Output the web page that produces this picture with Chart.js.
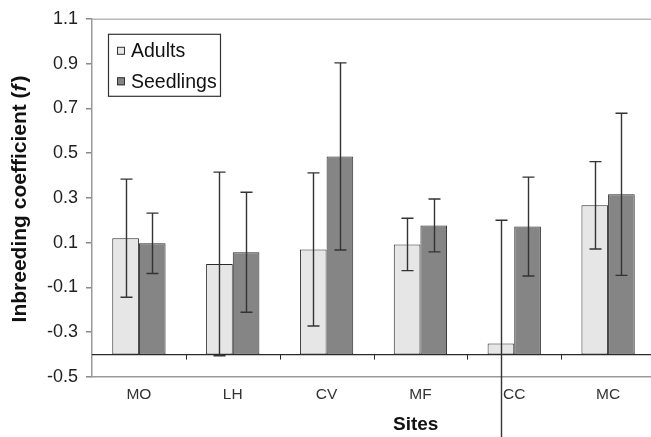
<!DOCTYPE html>
<html>
<head>
<meta charset="utf-8">
<script src="https://cdn.jsdelivr.net/npm/chart.js@4/dist/chart.umd.min.js"></script>
<style>
  html, body { margin: 0; padding: 0; background: #fff; overflow: hidden; }
  #wrap { width: 655px; height: 437px; }
</style>
</head>
<body>
<div id="wrap"><canvas id="c" width="655" height="437"></canvas></div>
<script>
const sites = ['MO', 'LH', 'CV', 'MF', 'CC', 'MC'];
const adults = [0.12, 0.005, 0.07, 0.092, -0.35, 0.267];
const adultsErr = [0.264, 0.41, 0.342, 0.117, 0.55, 0.195];
const seedlings = [0.097, 0.057, 0.485, 0.177, 0.172, 0.316];
const seedlingsErr = [0.135, 0.268, 0.418, 0.118, 0.221, 0.362];
const barBase = -0.4;
const yMin = -0.5, yMax = 1.1, yStep = 0.2;
const seriesNames = ['Adults', 'Seedlings'];
const yTitle = ['Inbreeding coefficient (', 'f', ')'];
const xTitle = 'Sites';

const FONT = '"Liberation Sans", Arial, sans-serif';
const errs = [adultsErr, seedlingsErr];

const decor = {
  id: 'decor',
  beforeDatasetsDraw(chart) {
    const { ctx, chartArea: a } = chart;
    ctx.save();
    ctx.strokeStyle = '#b8b8b8';
    ctx.lineWidth = 1.5;
    ctx.beginPath();
    ctx.moveTo(a.left, a.top + 0.5);
    ctx.lineTo(a.right, a.top + 0.5);
    ctx.stroke();
    ctx.restore();
  },
  afterDatasetsDraw(chart) {
    const { ctx, chartArea: a, scales } = chart;
    const ys = scales.y, xs = scales.x;
    ctx.save();
    const yb = ys.getPixelForValue(barBase);
    ctx.strokeStyle = '#2a2a2a';
    ctx.lineWidth = 1.3;
    ctx.beginPath();
    ctx.moveTo(a.left, yb);
    ctx.lineTo(a.right, yb);
    ctx.stroke();
    ctx.lineWidth = 1;
    for (let i = 0; i < sites.length - 1; i++) {
      const xm = (xs.getPixelForValue(i) + xs.getPixelForValue(i + 1)) / 2;
      ctx.beginPath();
      ctx.moveTo(Math.round(xm) + 0.5, yb);
      ctx.lineTo(Math.round(xm) + 0.5, yb + 5);
      ctx.stroke();
    }
    ctx.strokeStyle = '#333';
    ctx.lineWidth = 1.4;
    chart.data.datasets.forEach((ds, di) => {
      const meta = chart.getDatasetMeta(di);
      meta.data.forEach((bar, i) => {
        const v = ds.data[i], e = errs[di][i];
        const x = Math.round(bar.x) + 0.5;
        const t = ys.getPixelForValue(v + e);
        const b = ys.getPixelForValue(v - e);
        ctx.beginPath();
        ctx.moveTo(x, t); ctx.lineTo(x, b);
        ctx.moveTo(x - 6, t); ctx.lineTo(x + 6, t);
        ctx.moveTo(x - 6, b); ctx.lineTo(x + 6, b);
        ctx.stroke();
      });
    });
    ctx.restore();
  },
  afterDraw(chart) {
    const { ctx, chartArea: a } = chart;
    ctx.save();
    const lx = a.left + 16, ly = a.top + 15, lw = 112, lh = 62;
    ctx.strokeStyle = '#333';
    ctx.lineWidth = 1.2;
    ctx.strokeRect(lx + 0.5, ly + 0.5, lw, lh);
    ctx.font = '19.5px ' + FONT;
    ctx.textBaseline = 'middle';
    chart.data.datasets.forEach((ds, i) => {
      const cy = ly + 17 + i * 30.5;
      ctx.fillStyle = ds.backgroundColor;
      ctx.fillRect(lx + 9, cy - 4, 8, 8);
      ctx.strokeStyle = '#333';
      ctx.lineWidth = 1;
      ctx.strokeRect(lx + 9.5, cy - 3.5, 7, 7);
      ctx.fillStyle = '#111';
      ctx.fillText(ds.label, lx + 23, cy + 1);
    });
    const cy = (a.top + a.bottom) / 2 + 1;
    ctx.translate(20, cy);
    ctx.rotate(-Math.PI / 2);
    const fB = 'bold 21px ' + FONT, fI = 'italic bold 21px ' + FONT;
    ctx.font = fB; const w0 = ctx.measureText(yTitle[0]).width;
    ctx.font = fI; const w1 = ctx.measureText(yTitle[1]).width + 2;
    ctx.font = fB; const w2 = ctx.measureText(yTitle[2]).width;
    let x = -(w0 + w1 + w2) / 2;
    ctx.fillStyle = '#111';
    ctx.textBaseline = 'middle';
    ctx.textAlign = 'left';
    ctx.font = fB; ctx.fillText(yTitle[0], x, 0); x += w0;
    ctx.font = fI; ctx.fillText(yTitle[1], x, 0); x += w1;
    ctx.font = fB; ctx.fillText(yTitle[2], x, 0);
    ctx.setTransform(1, 0, 0, 1, 0, 0);
    ctx.font = 'bold 19px ' + FONT;
    ctx.textAlign = 'center';
    ctx.textBaseline = 'middle';
    ctx.fillText(xTitle, a.left + (a.right - a.left) * 0.575, 425);
    ctx.restore();
  }
};

new Chart(document.getElementById('c'), {
  type: 'bar',
  data: {
    labels: sites,
    datasets: [
      { label: seriesNames[0], data: adults, base: barBase, backgroundColor: '#e6e6e6',
        borderColor: '#2a2a2a', borderWidth: 1, borderSkipped: false },
      { label: seriesNames[1], data: seedlings, base: barBase, backgroundColor: '#858585',
        borderColor: '#2a2a2a', borderWidth: 1, borderSkipped: false }
    ]
  },
  options: {
    responsive: false,
    animation: false,
    events: [],
    layout: { padding: { top: 16, right: 0, left: 0, bottom: 0 } },
    datasets: { bar: { categoryPercentage: 0.568, barPercentage: 1.0 } },
    plugins: { legend: { display: false }, tooltip: { enabled: false }, title: { display: false } },
    scales: {
      x: {
        offset: true,
        grid: { display: false, drawTicks: false },
        border: { display: true, color: '#999', width: 1.5 },
        ticks: { color: '#333', font: { family: FONT, size: 15.5 }, padding: 8, maxRotation: 0 },
        afterFit(s) { s.height = 60; }
      },
      y: {
        min: yMin, max: yMax,
        ticks: { stepSize: yStep, color: '#222', font: { family: FONT, size: 18 }, padding: 8,
          callback: v => Number(v).toFixed(1) },
        grid: { drawOnChartArea: false, drawTicks: true, tickLength: 6, color: '#888', lineWidth: 1.5 },
        border: { display: true, color: '#999', width: 1.5 },
        afterFit(s) { s.width = 92; }
      }
    }
  },
  plugins: [decor]
});
</script>
</body>
</html>
